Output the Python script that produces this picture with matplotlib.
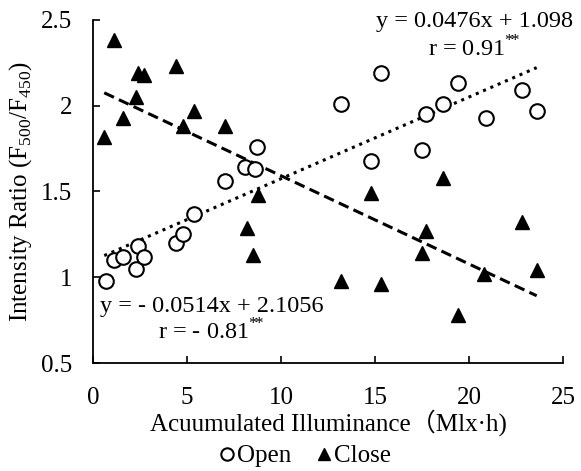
import numpy as np
import matplotlib
matplotlib.use('Agg')
import matplotlib.pyplot as plt

plt.rcParams['font.family'] = ['Liberation Serif', 'Noto Sans CJK SC', 'DejaVu Sans']
plt.rcParams['mathtext.fontset'] = 'custom'
plt.rcParams['mathtext.rm'] = 'Liberation Serif'

# open (circles)
open_x = [0.7, 1.1, 1.6, 2.4, 2.3, 2.7, 4.4, 4.8, 5.4, 7.0, 8.1, 8.6, 8.7,
          13.2, 15.3, 14.8, 17.5, 17.7, 18.6, 19.4, 20.9, 22.8, 23.6]
open_y = [0.98, 1.10, 1.12, 1.18, 1.05, 1.12, 1.20, 1.25, 1.37, 1.56, 1.64, 1.63, 1.76,
          2.01, 2.19, 1.68, 1.74, 1.95, 2.01, 2.13, 1.93, 2.09, 1.97]
# close (triangles)
close_x = [0.6, 1.1, 1.6, 2.3, 2.4, 2.7, 4.4, 4.8, 5.4, 7.0, 8.2, 8.8, 8.5,
           14.8, 18.6, 17.7, 22.8, 13.2, 15.3, 17.5, 19.4, 20.8, 23.6]
close_y = [1.82, 2.38, 1.93, 2.05, 2.19, 2.18, 2.23, 1.88, 1.97, 1.88, 1.29, 1.48, 1.13,
           1.49, 1.58, 1.27, 1.32, 0.98, 0.96, 1.14, 0.78, 1.02, 1.04]

open_fit = [0.0476, 1.098]
close_fit = [-0.0514, 2.1056]
fit_range = [0.6, 23.6]

fig = plt.figure(figsize=(5.81, 4.71), dpi=100)
ax = fig.add_axes([0.160, 0.229, 0.809, 0.729])

ax.plot(open_x, open_y, 'o', ms=10.5, mfc='white', mec='black', mew=1.5,
        label='Open', zorder=3)
ax.plot(close_x, close_y, '^', ms=10.5, mfc='black', mec='black',
        label='Close', zorder=3)

xx = np.linspace(fit_range[0], fit_range[1], 50)
ax.plot(xx, np.polyval(open_fit, xx), color='black', lw=2.2, ls=(0, (1, 1.6)), zorder=2)
ax.plot(xx, np.polyval(close_fit, xx), color='black', lw=2.2, ls=(0, (3.5, 1.8)), zorder=2)

ax.set_xlim(0, 25)
ax.set_ylim(0.5, 2.5)
ax.set_xticks([0, 5, 10, 15, 20, 25])
ax.set_yticks([0.5, 1, 1.5, 2, 2.5])
ax.set_yticklabels(['0.5', '1', '1.5', '2', '2.5'])
ax.tick_params(direction='in', length=5, width=1.2, labelsize=18)
ax.tick_params(axis='x', pad=17)
ax.tick_params(axis='y', pad=15)
for s in ['top', 'right']:
    ax.spines[s].set_visible(False)
for s in ['left', 'bottom']:
    ax.spines[s].set_linewidth(1.3)

ax.set_xlabel('Acuumulated Illuminance（Mlx·h)', fontsize=18, labelpad=0)
ax.set_ylabel('Intensity Ratio (F$_{500}$/F$_{450}$)', fontsize=18, labelpad=5)

sup = {'fontsize': 17.5, 'ha': 'center', 'va': 'center'}
ax.text(20.3, 2.49, 'y = 0.0476x + 1.098', **sup)
ax.text(20.3, 2.33, r'r = 0.91$^{*\!\!*}$', **sup)
ax.text(6.3, 0.83, 'y = - 0.0514x + 2.1056', **sup)
ax.text(6.3, 0.68, r'r = - 0.81$^{*\!\!*}$', **sup)

fig.legend(loc='lower center', bbox_to_anchor=(0.525, -0.04), ncol=2, frameon=False,
           fontsize=18, handlelength=0.6, handletextpad=0.1, columnspacing=1.0,
           markerscale=0.85)

fig.savefig('out.png', dpi=100)
